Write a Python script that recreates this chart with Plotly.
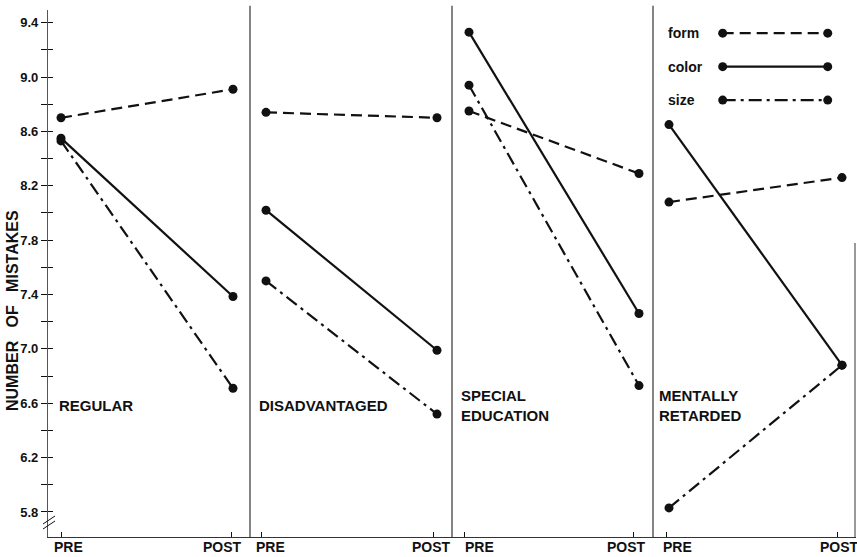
import plotly.graph_objects as go

# ---------------- data ----------------
groups = ["REGULAR", "DISADVANTAGED", "SPECIAL<br>EDUCATION", "MENTALLY<br>RETARDED"]
phases = ["PRE", "POST"]
form_pre = [8.70, 8.74, 8.75, 8.08]
form_post = [8.91, 8.70, 8.29, 8.26]
color_pre = [8.55, 8.02, 9.33, 8.65]
color_post = [7.385, 6.99, 7.26, 6.88]
size_pre = [8.53, 7.50, 8.94, 5.83]
size_post = [6.71, 6.52, 6.73, 6.88]
y_tick_vals = [5.8, 6.2, 6.6, 7.0, 7.4, 7.8, 8.2, 8.6, 9.0, 9.4]
y_tick_text = ["5.8", "6.2", "6.6", "7.0", "7.4", "7.8", "8.2", "8.6", "9.0", "9.4"]

# ---------------- layout constants ----------------
W, H = 857, 557
ML, MR, MT, MB = 48, 1, 10, 20
X_RANGE = [48, 856]
Y_RANGE = [5.616, 9.493]
dot_pre_x = [61, 266, 469, 669]
dot_post_x = [233, 437, 639, 842]
tick_pre_x = [61, 261, 464, 666]
tick_post_x = [231, 433, 633, 837]
label_pre_x = [68, 270, 479, 677]
label_post_x = [222, 431, 626, 839]
divider_x = [250, 452, 653]
group_label_x = [57, 257, 459, 657]
FONT = "Liberation Sans"
INK = "#111111"

series = [
    ("form", form_pre, form_post, "11px,6px"),
    ("color", color_pre, color_post, "solid"),
    ("size", size_pre, size_post, "13px,5px,3px,5px"),
]

fig = go.Figure()

for name, pre, post, dash in series:
    for i in range(len(groups)):
        fig.add_trace(go.Scatter(
            x=[dot_pre_x[i], dot_post_x[i]], y=[pre[i], post[i]],
            mode="lines+markers",
            line=dict(color=INK, width=2.2, dash=dash),
            marker=dict(color=INK, size=9),
            showlegend=False, hoverinfo="skip", name=name,
        ))

# invisible trace to activate the inner-tick overlay axis
fig.add_trace(go.Scatter(x=[None], y=[None], yaxis="y2", showlegend=False, hoverinfo="skip"))

# custom legend (drawn on an overlay axis in fractional units)
leg_text_x = 0.765
leg_x0, leg_x1 = 0.835, 0.965
leg_top, leg_gap = 0.956, 0.0635
for k, (name, pre, post, dash) in enumerate(series):
    yy = leg_top - k * leg_gap
    fig.add_trace(go.Scatter(
        x=[leg_x0, leg_x1], y=[yy, yy], xaxis="x2", yaxis="y3",
        mode="lines+markers",
        line=dict(color=INK, width=2.2, dash=dash),
        marker=dict(color=INK, size=9),
        showlegend=False, hoverinfo="skip",
    ))
    fig.add_annotation(x=leg_text_x, y=yy, xref="x2", yref="y3", text=name,
                       showarrow=False, xanchor="left", yanchor="middle",
                       font=dict(family=FONT, size=14, color=INK, weight="bold"))

# panel dividers
for dx in divider_x:
    fig.add_shape(type="line", x0=dx, x1=dx, y0=0, y1=1.008, xref="x", yref="paper",
                  line=dict(color="#333333", width=1.2))


def px2paper_x(px):
    return (px - ML) / (W - ML - MR)


def px2paper_y(py):
    return 1 - (py - MT) / (H - MT - MB)


# partial right edge line
fig.add_shape(type="line", x0=855, x1=855, y0=0, y1=px2paper_y(243),
              xref="x", yref="paper", line=dict(color="#555555", width=1.2))

# axis break mark
for off in (0, 5):
    fig.add_shape(type="line", xref="paper", yref="paper",
                  x0=px2paper_x(43), y0=px2paper_y(524 + off),
                  x1=px2paper_x(55), y1=px2paper_y(516 + off),
                  line=dict(color=INK, width=1))

# group labels
for i, g in enumerate(groups):
    fig.add_annotation(x=group_label_x[i], y=px2paper_y(405), xref="x", yref="paper",
                       text=g, showarrow=False, xanchor="left", yanchor="middle", align="left",
                       font=dict(family=FONT, size=15, color=INK, weight="bold"))

# PRE / POST labels
for i in range(len(groups)):
    for lx, t in ((label_pre_x[i], phases[0]), (label_post_x[i], phases[1])):
        fig.add_annotation(x=lx, y=px2paper_y(547), xref="x", yref="paper", text=t,
                           showarrow=False, xanchor="center", yanchor="middle",
                           font=dict(family=FONT, size=14, color=INK, weight="bold"))

# y axis title
fig.add_annotation(x=px2paper_x(12), y=px2paper_y(311), xref="paper", yref="paper",
                   text="NUMBER\u00a0\u00a0\u00a0OF\u00a0\u00a0\u00a0MISTAKES", textangle=-90,
                   showarrow=False, xanchor="center", yanchor="middle",
                   font=dict(family=FONT, size=16, color=INK, weight="bold"))

fig.update_layout(
    width=W, height=H,
    margin=dict(l=ML, r=MR, t=MT, b=MB),
    paper_bgcolor="white", plot_bgcolor="white",
    showlegend=False,
    xaxis=dict(range=X_RANGE, showgrid=False, zeroline=False,
               showline=True, linecolor="#333333", linewidth=1.2,
               tickvals=tick_pre_x + tick_post_x, ticks="inside", ticklen=5,
               tickcolor=INK, showticklabels=False),
    yaxis=dict(range=Y_RANGE, showgrid=False, zeroline=False,
               showline=True, linecolor="#555555", linewidth=1.2,
               tickvals=y_tick_vals, ticktext=y_tick_text,
               ticks="outside", ticklen=6, tickcolor=INK,
               tickfont=dict(family=FONT, size=13, color=INK, weight="bold"),
               minor=dict(dtick=0.2, tick0=5.8, ticks="outside", ticklen=6, tickcolor=INK)),
    yaxis2=dict(range=Y_RANGE, overlaying="y", side="left", anchor="x",
                showgrid=False, zeroline=False, showline=False,
                tickvals=y_tick_vals, ticks="inside", ticklen=5, tickcolor=INK,
                showticklabels=False,
                minor=dict(dtick=0.2, tick0=5.8, ticks="inside", ticklen=5, tickcolor=INK)),
    xaxis2=dict(range=[0, 1], overlaying="x", anchor="y3", visible=False),
    yaxis3=dict(range=[0, 1], overlaying="y", anchor="x2", visible=False),
)

fig.write_html("out.html", config={"displayModeBar": False},
               post_script="document.body.style.margin='0';document.body.style.overflow='hidden';")
